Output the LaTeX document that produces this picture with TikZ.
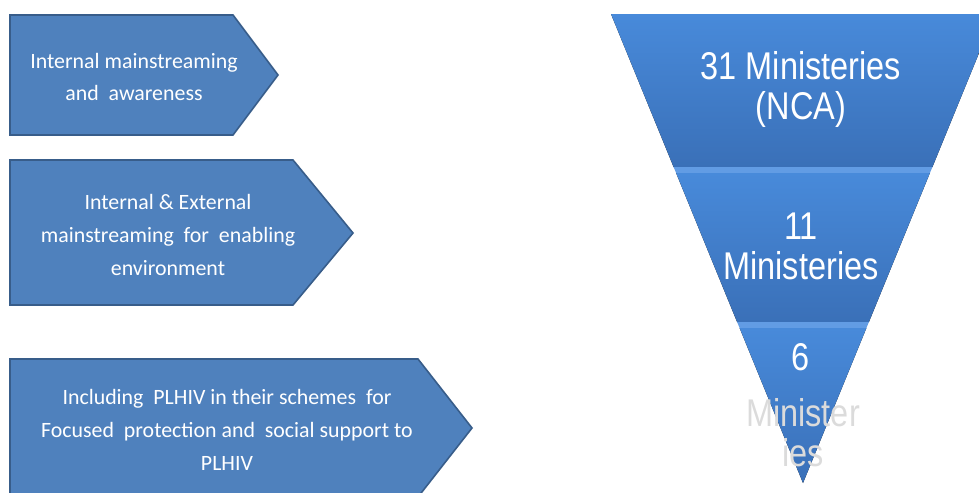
\documentclass[tikz,border=0pt]{standalone}
\usepackage{fontspec}
\setmainfont{Carlito}
\newfontfamily\narrowfont[FakeStretch=0.84]{Liberation Sans}
\usepackage{tikz}
\definecolor{boxblue}{RGB}{79,129,189}
\definecolor{boxedge}{RGB}{56,93,138}
\definecolor{funtop}{RGB}{72,138,218}
\definecolor{funbot}{RGB}{58,112,184}
\definecolor{bevelblue}{RGB}{98,156,228}

\begin{document}
\begin{tikzpicture}[x=0.75pt, y=-0.75pt,
  boxarrow/.style={fill=boxblue, draw=boxedge, line width=1.2pt, line join=miter},
  boxtext/.style={text=white, align=center, font={\fontsize{16.4}{24.5}\selectfont}},
  funnelpart/.style={top color=funtop, bottom color=funbot, draw=none},
  bevel/.style={fill=bevelblue, draw=none},
  bigtext/.style={text=white, align=center, font={\narrowfont\fontsize{29}{30}\selectfont}}]
  \useasboundingbox (0,0) rectangle (979,493);
  \clip (0,0) rectangle (979,493);
  % Left arrows
  \draw[boxarrow] (10,15) -- (233,15) -- (278,75) -- (233,135) -- (10,135) -- cycle;
  \node[boxtext] (aware) at (134,77) {Internal mainstreaming\\and\ \ awareness};
  \draw[boxarrow] (10,160) -- (293,160) -- (353,233) -- (293,305) -- (10,305) -- cycle;
  \node[boxtext] (enable) at (168,235) {Internal \& External\\mainstreaming\ \ for\ \ enabling\\environment};
  \draw[boxarrow] (10,359) -- (418,359) -- (472,428) -- (418,497) -- (10,497) -- cycle;
  \node[boxtext] (support) at (227,430) {Including\ \ PLHIV in their schemes\ \ for\\Focused\ \ protection and\ \ social support to\\PLHIV};
  % Funnel
  \fill[funnelpart] (611,14) -- (995,14) -- (932.4,167) -- (673.6,167) -- cycle;
  \fill[bevel] (673.6,167) -- (932.4,167) -- (929.9,173) -- (676.1,173) -- cycle;
  \fill[funnelpart] (676.1,173) -- (929.9,173) -- (868.9,322) -- (737.1,322) -- cycle;
  \fill[bevel] (737.1,322) -- (868.9,322) -- (866.4,328) -- (739.6,328) -- cycle;
  \fill[funnelpart] (739.6,328) -- (866.4,328) -- (803,483) -- cycle;
  % Funnel labels
  \node[bigtext] (top) at (801,89) {31 Ministeries\\(NCA)};
  \node[bigtext] (mid) at (801,246) {11\\Ministeries};
  \node[bigtext] (six) at (801,357) {6};
  \node[bigtext, text=white!86!black] (low) at (803,433) {Minister\\ies};
\end{tikzpicture}
\end{document}
